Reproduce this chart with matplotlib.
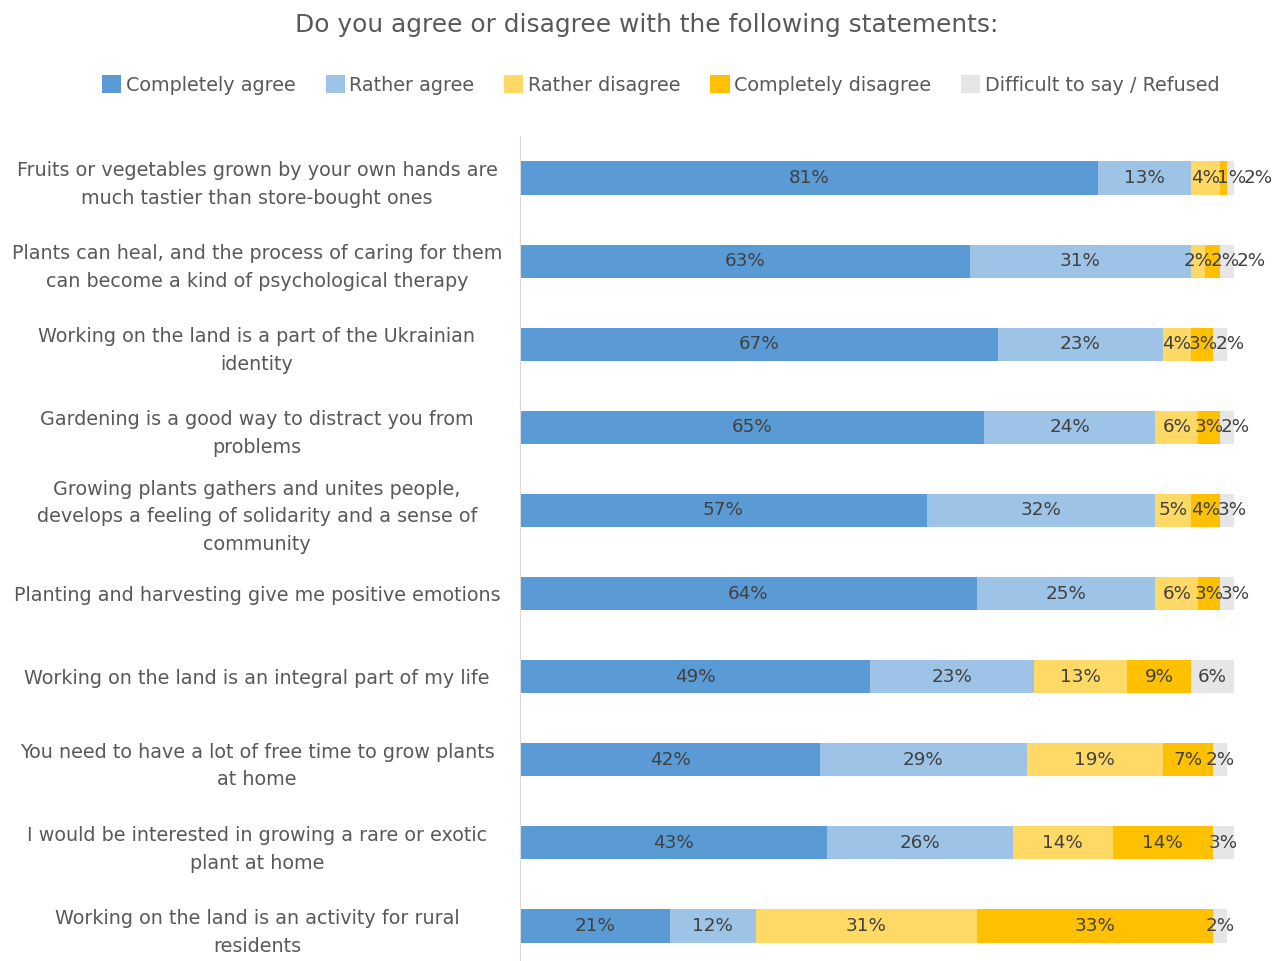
import numpy as np
import matplotlib.pyplot as plt

# =====================================================
# DATOS
# =====================================================

statements = [
    "Fruits or vegetables grown by your own hands are\nmuch tastier than store-bought ones",
    "Plants can heal, and the process of caring for them\ncan become a kind of psychological therapy",
    "Working on the land is a part of the Ukrainian\nidentity",
    "Gardening is a good way to distract you from\nproblems",
    "Growing plants gathers and unites people,\ndevelops a feeling of solidarity and a sense of\ncommunity",
    "Planting and harvesting give me positive emotions",
    "Working on the land is an integral part of my life",
    "You need to have a lot of free time to grow plants\nat home",
    "I would be interested in growing a rare or exotic\nplant at home",
    "Working on the land is an activity for rural\nresidents",
]

series_names = ["Completely agree", "Rather agree", "Rather disagree",
                "Completely disagree", "Difficult to say / Refused"]

completely_agree = [81, 63, 67, 65, 57, 64, 49, 42, 43, 21]
rather_agree = [13, 31, 23, 24, 32, 25, 23, 29, 26, 12]
rather_disagree = [4, 2, 4, 6, 5, 6, 13, 19, 14, 31]
completely_disagree = [1, 2, 3, 3, 4, 3, 9, 7, 14, 33]
difficult = [2, 2, 2, 2, 3, 3, 6, 2, 3, 2]

colors = ["#5B9BD5", "#9DC3E6", "#FFD966", "#FFC000", "#E7E6E6"]

# =====================================================
# FIGURA
# =====================================================

plt.rcParams['font.family'] = ['DejaVu Sans']

W, H = 1276, 961
fig = plt.figure(figsize=(W / 100, H / 100), dpi=100)
ax = fig.add_axes([520 / W, 1 - 967.5 / H, (1234 - 520) / W, (967.5 - 136.5) / H])

y = np.arange(len(statements))
left = np.zeros(len(statements))
all_series = [completely_agree, rather_agree, rather_disagree,
              completely_disagree, difficult]

centers = []
for name, vals, col in zip(series_names, all_series, colors):
    vals = np.array(vals, dtype=float)
    ax.barh(y, vals, left=left, height=0.4, color=col, label=name)
    centers.append(left + vals / 2)
    left += vals

# etiquetas: centradas, empujadas a la derecha si se pisan
gap = 3.7  # en unidades de %
for i in range(len(statements)):
    prev = -100
    for k in range(len(all_series)):
        c = max(centers[k][i], prev + gap)
        ax.text(c, y[i], f"{all_series[k][i]}%", ha='center', va='center',
                color='#404040', fontsize=13.2)
        prev = c

ax.set_ylim(len(statements) - 0.5, -0.5)
ax.set_xlim(0, 100)
ax.set_xticks([])
ax.set_yticks(y)
ax.set_yticklabels(statements, fontsize=13.8, color='#595959',
                   ha='center', multialignment='center', linespacing=1.58)
ax.tick_params(axis='y', length=0, pad=(520 - 257) * 0.72)

for s in ['top', 'right', 'bottom']:
    ax.spines[s].set_visible(False)
ax.spines['left'].set_color('#D9D9D9')

fig.text(647 / W, 1 - 25 / H,
         "Do you agree or disagree with the following statements:",
         ha='center', va='center', fontsize=17.9, color='#595959')

fig.legend(loc='center', bbox_to_anchor=(661 / W, 1 - 85 / H), ncol=5,
           frameon=False, fontsize=13.8, labelcolor='#595959',
           handlelength=1.0, handleheight=1.0, handletextpad=0.25,
           columnspacing=1.55)

fig.savefig("out.png", dpi=100)
